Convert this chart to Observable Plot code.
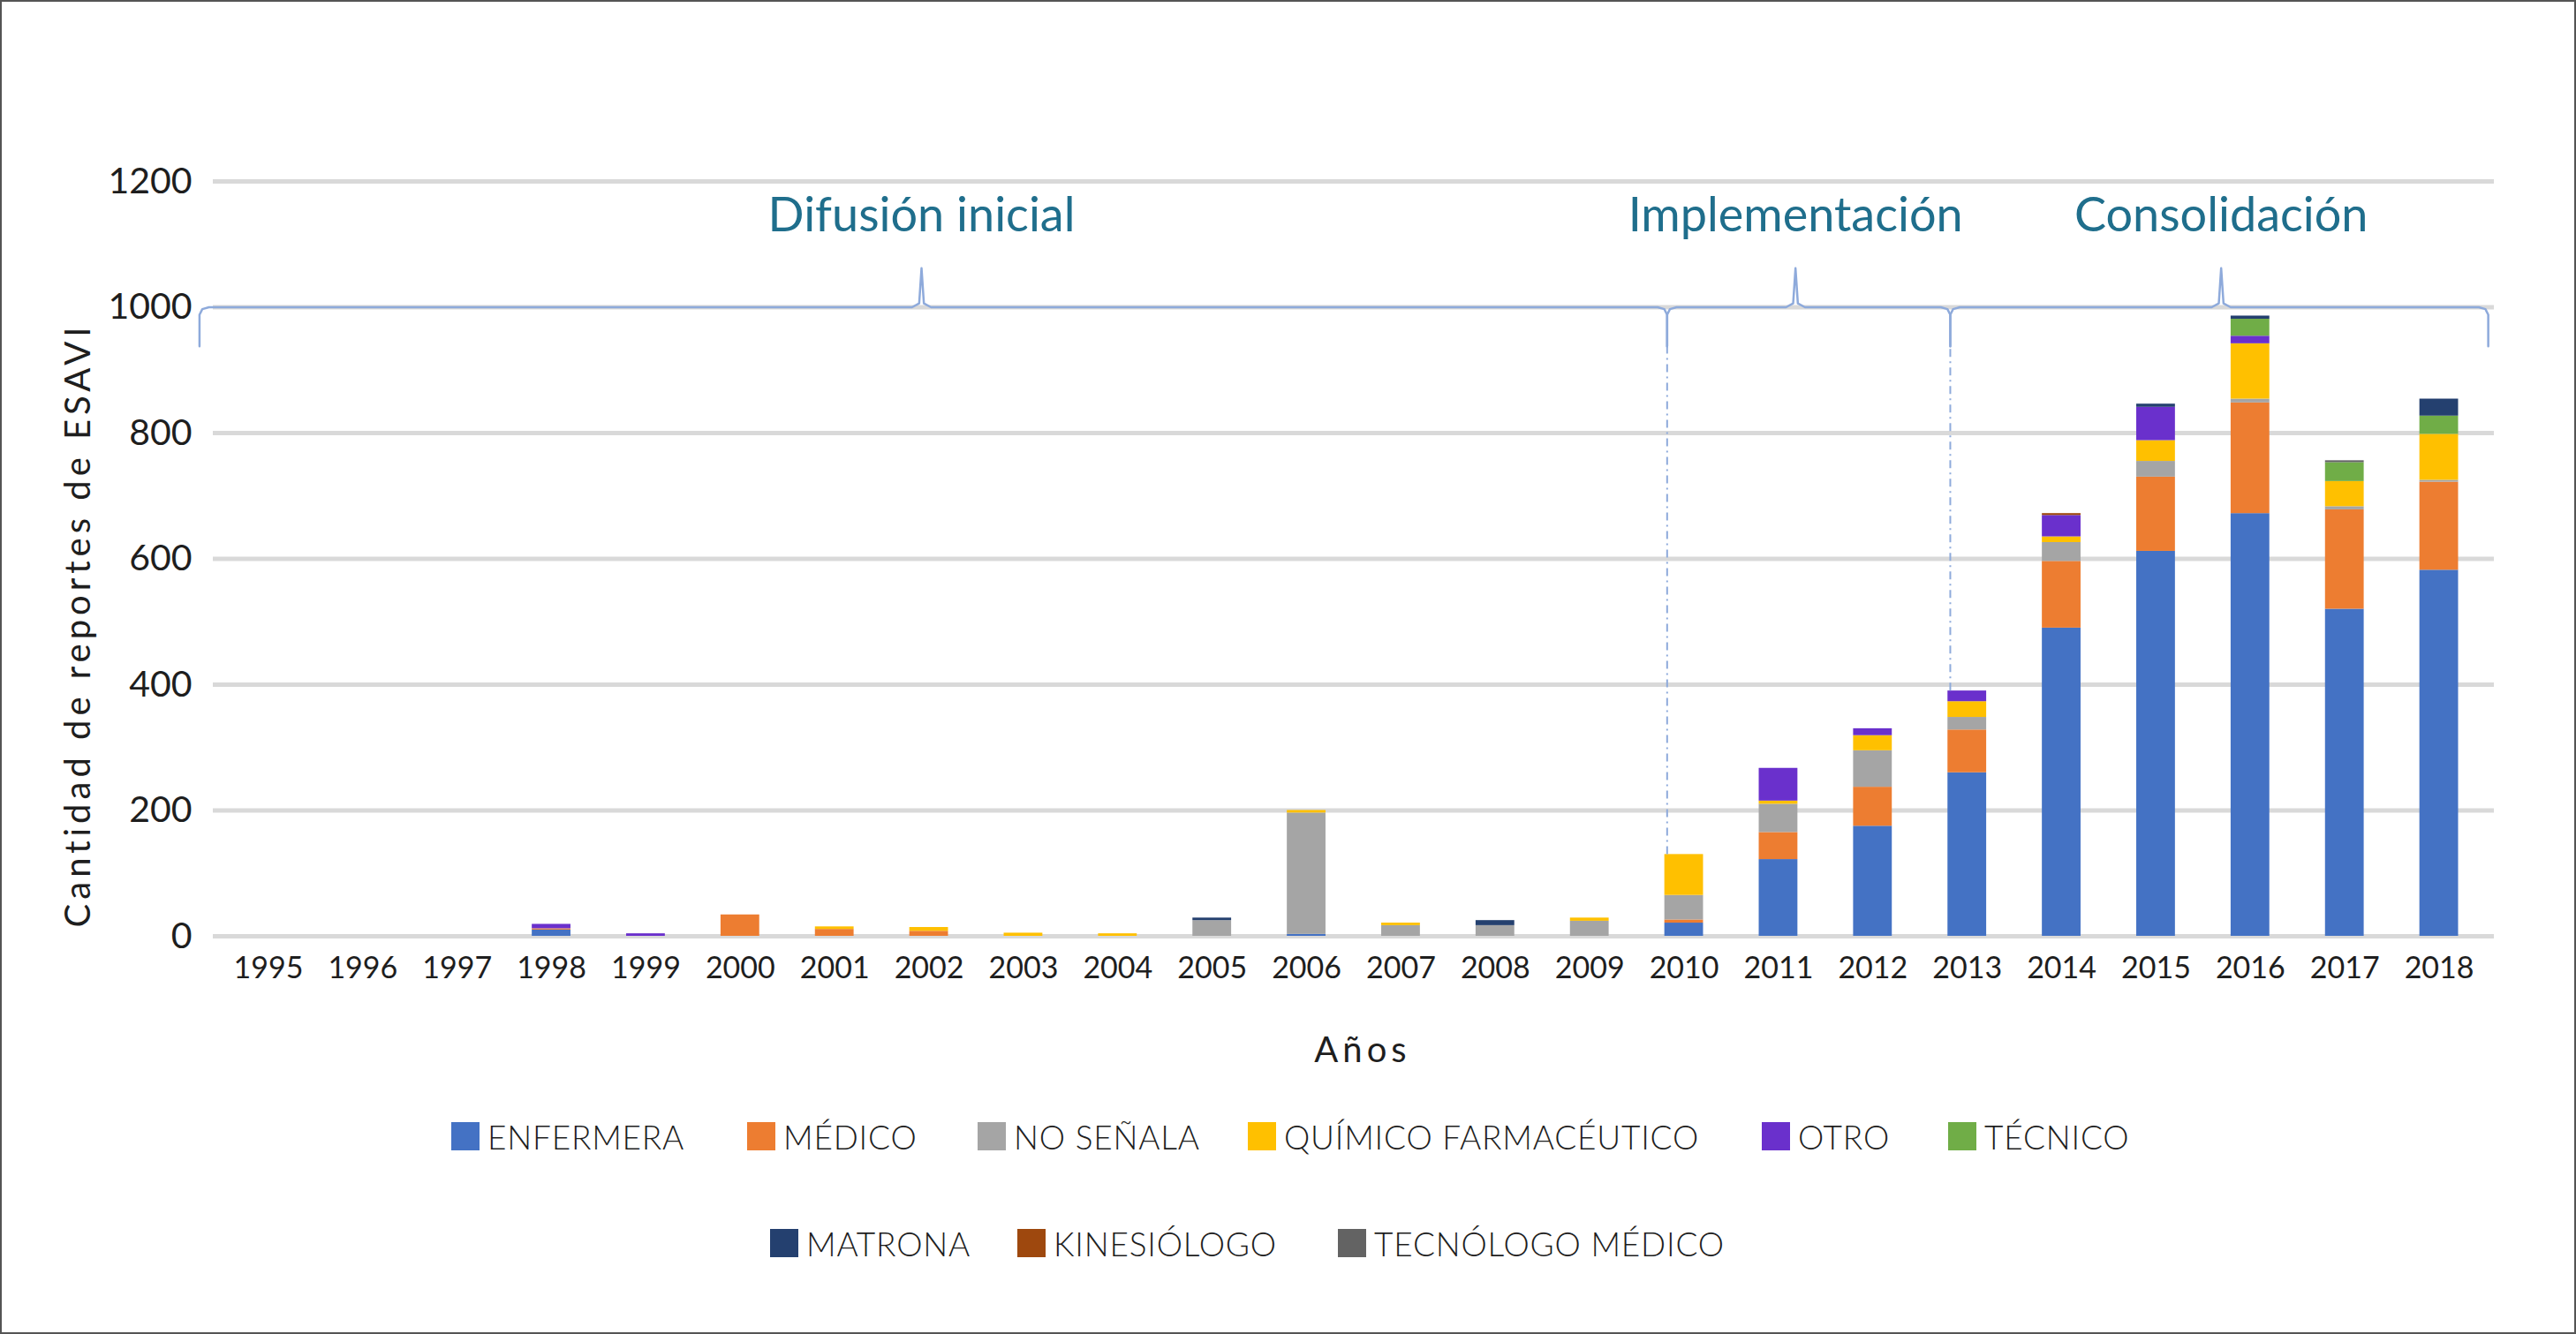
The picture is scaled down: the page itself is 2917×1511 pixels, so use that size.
<!DOCTYPE html>
<html>
<head>
<meta charset="utf-8">
<script src="https://cdn.jsdelivr.net/npm/d3@7"></script>
<script src="https://cdn.jsdelivr.net/npm/@observablehq/plot@0.6"></script>
<style>
  html, body { margin: 0; padding: 0; background: #fff; }
  #chart {
    position: relative; width: 2917px; height: 1511px; box-sizing: border-box;
    border: 2px solid #555; background: #fff; overflow: hidden;
    font-family: Lato, "Noto Sans", sans-serif; color: #1e1e1e;
  }
  #chart svg { display: block; }
  .spaced text { letter-spacing: 5px; }
  .legend-item {
    position: absolute; height: 46px; white-space: nowrap;
    display: flex; align-items: center; gap: 9px;
    font-size: 37px; letter-spacing: 0.8px; font-weight: 300;
  }
  .swatch { width: 32px; height: 32px; }
</style>
</head>
<body>
<div id="chart"></div>
<script>
// años del eje X
const years = [1995, 1996, 1997, 1998, 1999, 2000, 2001, 2002, 2003, 2004, 2005, 2006,
               2007, 2008, 2009, 2010, 2011, 2012, 2013, 2014, 2015, 2016, 2017, 2018];
const yTicks = [0, 200, 400, 600, 800, 1000, 1200];

// reportes por profesión que notifica
const enfermera   = [0,0,0,10,0,0,0,0,0,0,0,3,0,0,0,21,122,175,260,490,612,672,520,582];
const medico      = [0,0,0,2,0,34,11,8,0,0,0,0,0,0,0,5,43,62,68,106,118,176,158,140];
const noSenala    = [0,0,0,0,0,0,0,0,0,0,25,193,17,17,24,39,45,58,20,30,25,6,5,3];
const quimico     = [0,0,0,0,0,0,4,6,5,4,0,4,4,0,5,65,5,24,25,9,33,88,40,73];
const otro        = [0,0,0,7,4,0,0,0,0,0,0,0,0,0,0,0,52,11,17,34,53,12,0,0];
const tecnico     = [0,0,0,0,0,0,0,0,0,0,0,0,0,0,0,0,0,0,0,0,0,27,30,29];
const matrona     = [0,0,0,0,0,0,0,0,0,0,4,0,0,8,0,0,0,0,0,0,5,5,0,27];
const kinesiologo = [0,0,0,0,0,0,0,0,0,0,0,0,0,0,0,0,0,0,0,3,0,0,0,0];
const tecnologo   = [0,0,0,0,0,0,0,0,0,0,0,0,0,0,0,0,0,0,0,0,0,0,3,0];

const roles = ["ENFERMERA", "MÉDICO", "NO SEÑALA", "QUÍMICO FARMACÉUTICO", "OTRO", "TÉCNICO",
               "MATRONA", "KINESIÓLOGO", "TECNÓLOGO MÉDICO"];
const roleColors = ["#4472c4", "#ed7d31", "#a5a5a5", "#ffc000", "#6a30cc", "#70ad47",
                    "#24406f", "#9e480e", "#636363"];
const series = [enfermera, medico, noSenala, quimico, otro, tecnico, matrona, kinesiologo, tecnologo];

// etapas del sistema (inicio, punta de la llave, fin, en años)
const phaseNames = ["Difusión inicial", "Implementación", "Consolidación"];
const phaseStart = [1994.27, 2009.82, 2012.82];
const phasePeak  = [2001.92, 2011.18, 2015.69];
const phaseEnd   = [2009.82, 2012.82, 2018.52];

const yTitle = "Cantidad de reportes de ESAVI";
const xTitle = "Años";

const rows = roles.flatMap((role, j) => years.map((year, i) => ({year, role, value: series[j][i]})))
  .filter(d => d.value > 0);
const totals = d3.rollup(rows, v => d3.sum(v, d => d.value), d => d.year);

// llaves sobre las etapas
const braceLevel = 1000, braceTip = 1062, braceFoot = 938, labelLevel = 1145;
function brace(a, m, b) {
  return [[a, braceFoot], [a, 988], [a + 0.03, 997], [a + 0.1, braceLevel],
          [m - 0.1, braceLevel], [m - 0.025, 1006], [m, braceTip], [m + 0.025, 1006], [m + 0.1, braceLevel],
          [b - 0.1, braceLevel], [b - 0.03, 997], [b, 988], [b, braceFoot]];
}
const braceRows = phaseNames.flatMap((phase, i) =>
  brace(phaseStart[i], phasePeak[i], phaseEnd[i]).map(([x, y]) => ({phase, x, y})));
const dashRows = [1, 2].map(i => ({x: phaseStart[i], top: totals.get(Math.round(phaseStart[i]))}));
const phaseLabels = phaseNames.map((name, i) => ({name, x: phasePeak[i]}));

const barHalf = 0.205;

const chart = Plot.plot({
  width: 2913,
  height: 1230,
  marginLeft: 239,
  marginRight: 91,
  marginTop: 203,
  marginBottom: 172,
  style: {fontFamily: "Lato, 'Noto Sans', sans-serif", fontSize: "36px", color: "#1e1e1e", background: "transparent", overflow: "visible"},
  x: {domain: [1994.5, 2018.5], insetLeft: 9, insetRight: 9},
  y: {domain: [0, 1200]},
  color: {domain: roles, range: roleColors},
  marks: [
    Plot.ruleY(yTicks, {stroke: "#d9d9d9", strokeWidth: 5}),
    Plot.rect(rows, Plot.stackY({
      x1: d => d.year - barHalf,
      x2: d => d.year + barHalf,
      y: "value",
      fill: "role",
      order: roles
    })),
    Plot.ruleX(dashRows, {x: "x", y1: "top", y2: braceFoot, stroke: "#8eaadb", strokeWidth: 2, strokeDasharray: "9,5,2,5"}),
    Plot.line(braceRows, {x: "x", y: "y", z: "phase", stroke: "#8eaadb", strokeWidth: 2.5}),
    Plot.text(phaseLabels, {x: "x", y: () => labelLevel, text: "name", fill: "#1f6e8c", fontSize: 54}),
    Plot.axisX({ticks: years, tickFormat: d => String(d), tickSize: 0, tickPadding: 23, fontSize: 34, label: null}),
    Plot.axisY({ticks: yTicks, tickFormat: d => String(d), tickSize: 0, tickPadding: 24, fontSize: 41, label: null}),
    Plot.text([yTitle], {frameAnchor: "left", textAnchor: "middle", lineAnchor: "middle", rotate: -90, dx: -152, dy: 75, fontSize: 40, className: "spaced"}),
    Plot.text([xTitle], {frameAnchor: "bottom", lineAnchor: "middle", dx: 10, dy: 130, fontSize: 40, className: "spaced"})
  ]
});

const root = document.getElementById("chart");
root.append(chart);

// leyenda en dos filas, como en el original (posición izquierda de cada casilla)
const legendRows = [roles.slice(0, 6), roles.slice(6)];
const legendTops = [1262, 1383];
const legendLefts = [[509, 844, 1105, 1411, 1993, 2204], [870, 1150, 1513]];
legendRows.forEach((names, r) => {
  names.forEach((name, k) => {
    const item = document.createElement("div");
    item.className = "legend-item";
    item.style.top = legendTops[r] + "px";
    item.style.left = legendLefts[r][k] + "px";
    const sw = document.createElement("span");
    sw.className = "swatch";
    sw.style.background = roleColors[roles.indexOf(name)];
    const label = document.createElement("span");
    label.textContent = name;
    item.append(sw, label);
    root.append(item);
  });
});
</script>
</body>
</html>
